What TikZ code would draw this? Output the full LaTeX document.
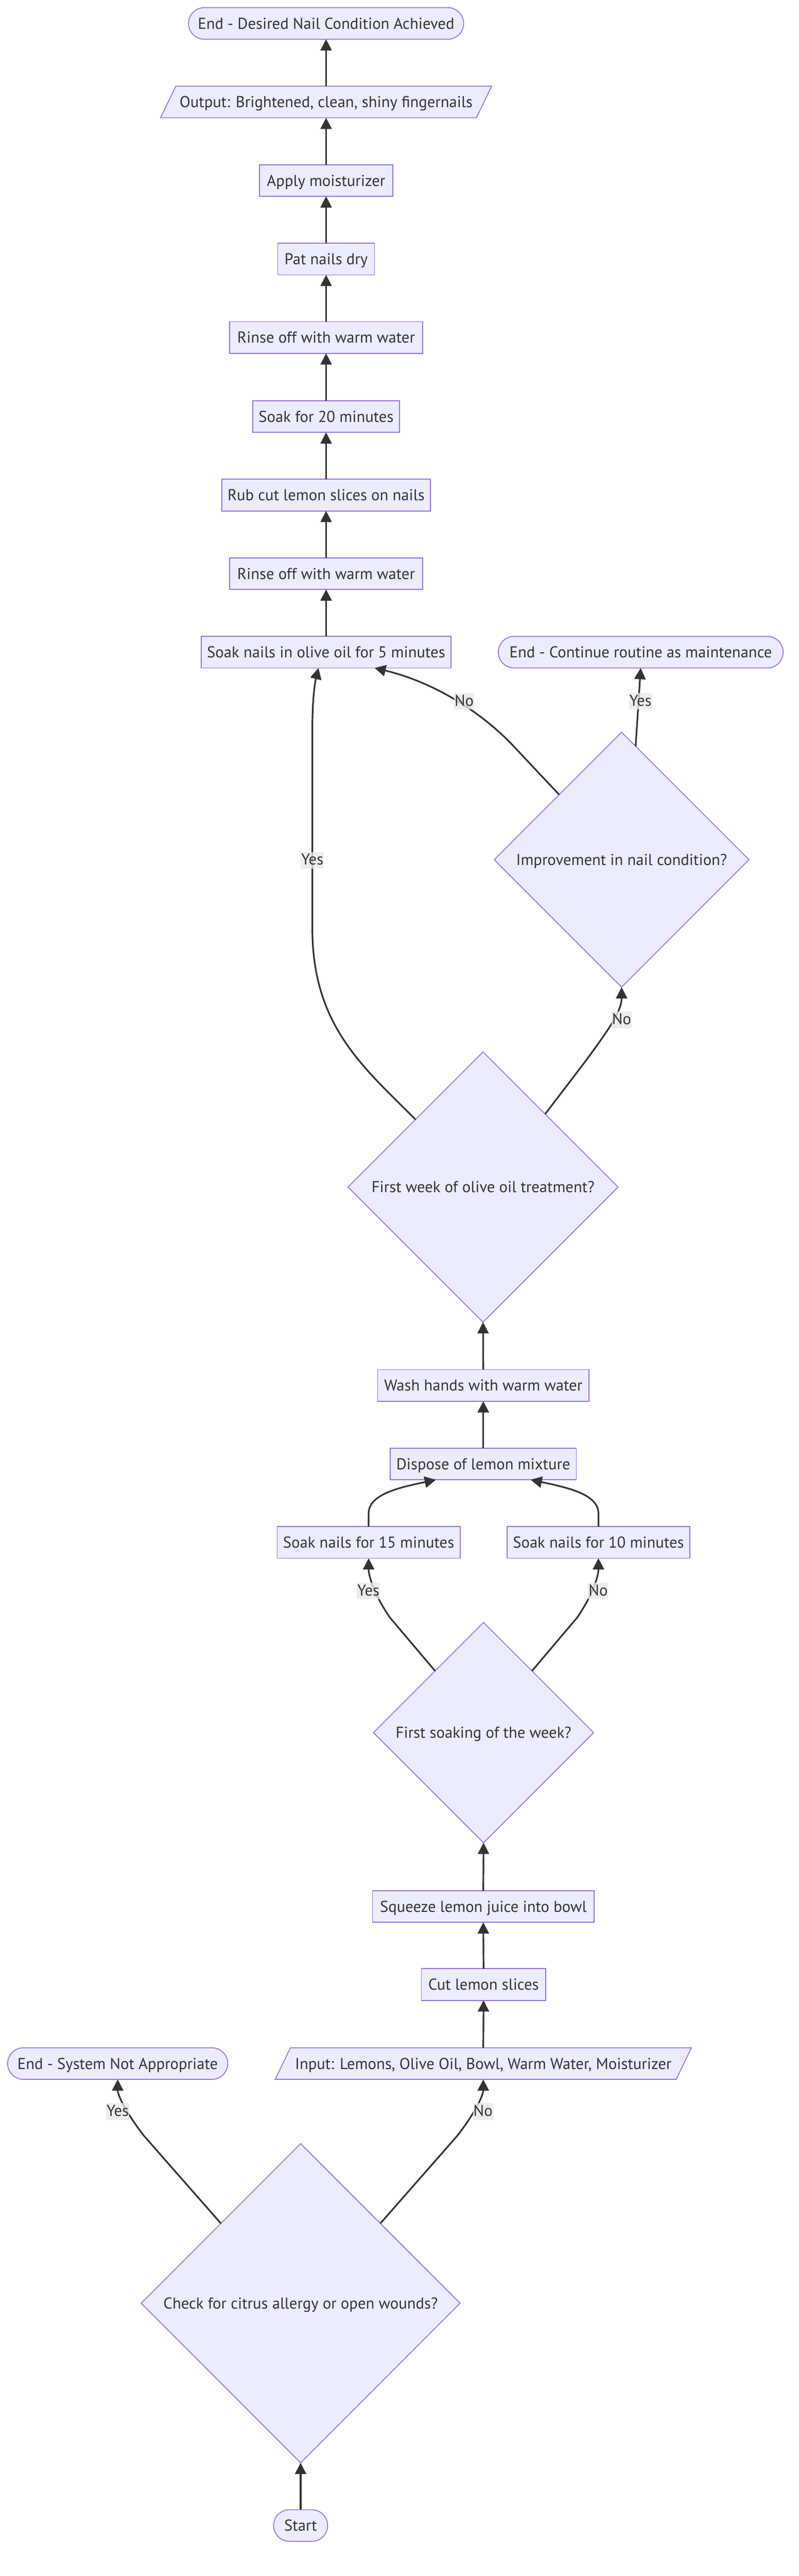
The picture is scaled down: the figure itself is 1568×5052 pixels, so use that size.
\documentclass[tikz,border=0pt]{standalone}
\usepackage{fontspec}
\setmainfont{PT Sans}
\usetikzlibrary{shapes.geometric,arrows.meta,calc,backgrounds}
\definecolor{fillc}{HTML}{ECECFF}
\definecolor{bordc}{HTML}{9370DB}
\definecolor{edgec}{HTML}{333333}
\definecolor{textc}{HTML}{333333}
\definecolor{labc}{HTML}{E8E8E8}
\begin{document}
\begin{tikzpicture}[x=1pt,y=-1pt,
  font=\fontsize{31pt}{37pt}\selectfont,
  box/.style={draw=bordc, fill=fillc, line width=1.7pt, text=textc, minimum height=62pt, inner sep=0pt, outer sep=0pt, text height=21.7pt, text depth=0pt},
  term/.style={box, rounded corners=31pt},
  dec/.style={diamond, aspect=1, draw=bordc, fill=fillc, line width=1.7pt, text=textc, inner sep=0pt, outer sep=0pt, text height=21.7pt, text depth=0pt},
  io/.style={minimum height=62pt, inner sep=0pt, outer sep=0pt, text=textc, text height=21.7pt, text depth=0pt},
  pgram/.style={draw=bordc, fill=fillc, line width=1.7pt},
  conn/.style={draw=edgec, line width=3.2pt, -{Triangle[length=22pt,width=22pt]}},
  elab/.style={fill=labc, fill opacity=0.8, text opacity=1, text=textc, inner xsep=1pt, inner ysep=0pt, text height=25.5pt, text depth=7pt}
]
\useasboundingbox (0,0) rectangle (1568,5052);

% nodes
\node[term, minimum width=540pt] (endok) at (640,46) {End - Desired Nail Condition Achieved};
\node[io, minimum width=620pt] (out) at (640,200) {Output: Brightened, clean, shiny fingernails};
\node[box, minimum width=262pt] (apply) at (640,354) {Apply moisturizer};
\node[box, minimum width=190pt] (pat) at (640,508) {Pat nails dry};
\node[box, minimum width=379pt] (rinse1) at (640,662) {Rinse off with warm water};
\node[box, minimum width=288pt] (soak20) at (640,817) {Soak for 20 minutes};
\node[box, minimum width=409pt] (rub) at (640,971) {Rub cut lemon slices on nails};
\node[box, minimum width=379pt] (rinse2) at (640,1125) {Rinse off with warm water};
\node[box, minimum width=490pt] (soakoil) at (640,1279) {Soak nails in olive oil for 5 minutes};
\node[term, minimum width=559pt] (endcont) at (1257.5,1279) {End - Continue routine as maintenance};
\node[dec, minimum size=500pt] (imp) at (1220,1686) {Improvement in nail condition?};
\node[dec, minimum size=530pt] (fw) at (948,2328) {First week of olive oil treatment?};
\node[box, minimum width=415pt] (wash) at (948.5,2717) {Wash hands with warm water};
\node[box, minimum width=365pt] (dispose) at (948.5,2871) {Dispose of lemon mixture};
\node[box, minimum width=359pt] (s15) at (723.5,3025) {Soak nails for 15 minutes};
\node[box, minimum width=359pt] (s10) at (1174.5,3025) {Soak nails for 10 minutes};
\node[dec, minimum size=432pt] (fs) at (949,3398) {First soaking of the week?};
\node[box, minimum width=435pt] (squeeze) at (948.5,3739) {Squeeze lemon juice into bowl};
\node[box, minimum width=244pt] (cut) at (949,3892) {Cut lemon slices};
\node[term, minimum width=432pt] (esys) at (231,4047) {End - System Not Appropriate};
\node[io, minimum width=787pt] (inp) at (948.5,4047) {Input: Lemons, Olive Oil, Bowl, Warm Water, Moisturizer};
\node[dec, minimum size=626pt] (chk) at (590,4517) {Check for citrus allergy or open wounds?};
\node[term, minimum width=106pt] (start) at (590,4953) {Start};

% parallelograms
\begin{scope}[on background layer]
\draw[pgram] ([xshift=-15pt]out.south west) -- ([xshift=-15pt]out.south east) -- ([xshift=15pt]out.north east) -- ([xshift=15pt]out.north west) -- cycle;
\draw[pgram] ([xshift=-15pt]inp.south west) -- ([xshift=-15pt]inp.south east) -- ([xshift=15pt]inp.north east) -- ([xshift=15pt]inp.north west) -- cycle;
\end{scope}

% connectors
\draw[conn] (start.north) -- (chk.south);
\draw[conn] (chk.north west) -- (282,4188) .. controls (245,4140) and (231,4108) .. (esys.south);
\draw[conn] (chk.north east) -- (898,4188) .. controls (935,4140) and (948.5,4108) .. (inp.south);
\draw[conn] (inp.north) -- (cut.south);
\draw[conn] (cut.north) -- (squeeze.south);
\draw[conn] (squeeze.north) -- (fs.south);
\draw[conn] ($(fs.north)!0.44!(fs.west)$) -- (765,3172) .. controls (735,3128) and (723.5,3092) .. (s15.south);
\draw[conn] ($(fs.north)!0.44!(fs.east)$) -- (1133,3172) .. controls (1163,3128) and (1174.5,3092) .. (s10.south);
\draw[conn] (s15.north) -- (723.5,2968) .. controls (723.5,2930) and (785,2917) .. ($(dispose.south)+(-93,0)$);
\draw[conn] (s10.north) -- (1174.5,2968) .. controls (1174.5,2930) and (1112,2917) .. ($(dispose.south)+(93,0)$);
\draw[conn] (dispose.north) -- (wash.south);
\draw[conn] (wash.north) -- (fw.south);
\draw[conn] (fw.north west) .. controls (710,2090) and (613,2010) .. (613,1820) -- (613,1430) .. controls (613,1365) and (619,1335) .. ($(soakoil.south)+(-15,0)$);
\draw[conn] ($(fw.north)!0.46!(fw.east)$) -- (1150,2080) .. controls (1190,2025) and (1220,1985) .. (imp.south);
\draw[conn] ($(imp.north)!0.49!(imp.west)$) -- (1000,1455) .. controls (930,1385) and (840,1335) .. ($(soakoil.south)+(95,0)$);
\draw[conn] ($(imp.north)!0.11!(imp.east)$) -- (endcont.south);
\draw[conn] (soakoil.north) -- (rinse2.south);
\draw[conn] (rinse2.north) -- (rub.south);
\draw[conn] (rub.north) -- (soak20.south);
\draw[conn] (soak20.north) -- (rinse1.south);
\draw[conn] (rinse1.north) -- (pat.south);
\draw[conn] (pat.north) -- (apply.south);
\draw[conn] (apply.north) -- (out.south);
\draw[conn] (out.north) -- (endok.south);

% edge labels
\node[elab] (lchkyes) at (231,4141) {Yes};
\node[elab] (lchkno) at (948,4141) {No};
\node[elab] (lfsyes) at (723,3120) {Yes};
\node[elab] (lfsno) at (1174,3120) {No};
\node[elab] (lfwyes) at (613,1687) {Yes};
\node[elab] (lfwno) at (1220,2000) {No};
\node[elab] (limpno) at (911,1375) {No};
\node[elab] (limpyes) at (1257,1375) {Yes};
\end{tikzpicture}
\end{document}
